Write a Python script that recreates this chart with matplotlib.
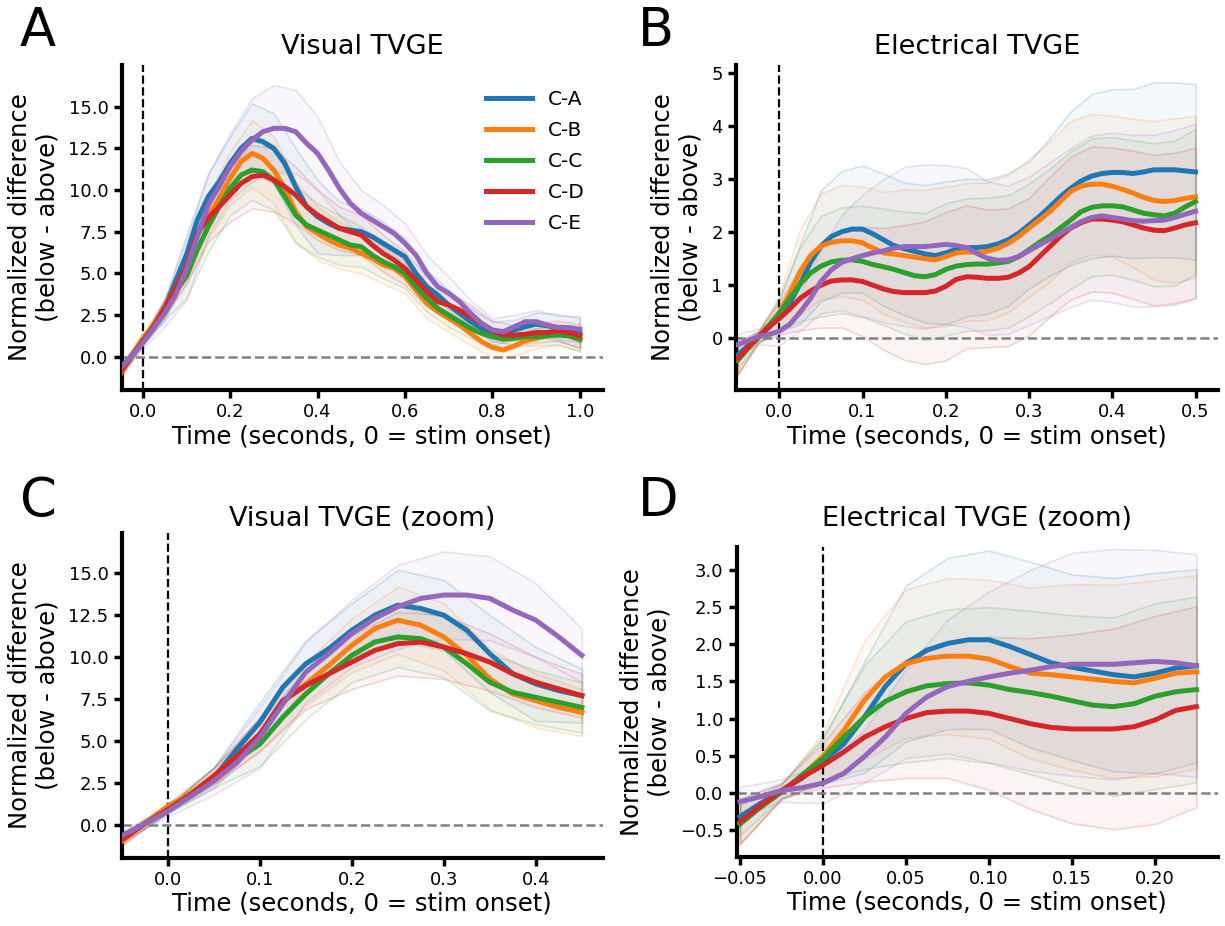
import numpy as np
import matplotlib.pyplot as plt
from matplotlib.colors import to_rgba

conds = ["C-A", "C-B", "C-C", "C-D", "C-E"]
colors = ["#1f77b4", "#ff7f0e", "#2ca02c", "#d62728", "#9467bd"]

# ---- visual TVGE: mean every 25 ms, -0.05 .. 1.0 s
vis_t = np.round(np.arange(-0.05, 1.0001, 0.025), 4)
vis_a = [-0.8, 0.05, 0.9, 1.7, 2.8, 4.5, 6.1, 8.2, 9.6, 10.5, 11.6, 12.5, 13.1, 12.9, 12.5, 11.6, 10.2, 9.0, 8.4, 8.0, 7.7,
         7.6, 7.5, 7.2, 6.8, 6.4, 6.0, 5.0, 4.2, 3.7, 3.1, 2.6, 2.1, 1.7, 1.4, 1.35, 1.6, 1.8, 1.95, 1.85, 1.75, 1.6, 1.4]
vis_b = [-1.0, 0.1, 1.1, 1.9, 2.9, 4.1, 5.4, 7.3, 8.4, 9.5, 10.7, 11.7, 12.2, 11.9, 11.2, 10.1, 8.7, 7.8, 7.4, 7.0, 6.7,
         6.5, 6.2, 5.9, 5.5, 5.3, 4.8, 4.0, 3.2, 2.7, 2.3, 1.9, 1.4, 0.9, 0.55, 0.4, 0.65, 0.95, 1.1, 1.25, 1.35, 1.25, 1.0]
vis_c = [-0.8, 0.05, 0.9, 1.8, 2.8, 3.9, 4.8, 6.4, 7.8, 9.0, 10.1, 10.9, 11.2, 11.1, 10.6, 9.6, 8.5, 7.9, 7.6, 7.3, 7.0,
         6.7, 6.6, 6.1, 5.7, 5.4, 5.0, 4.2, 3.5, 2.9, 2.5, 2.1, 1.7, 1.4, 1.2, 1.05, 1.1, 1.2, 1.2, 1.25, 1.3, 1.25, 1.05]
vis_d = [-0.9, 0.05, 0.9, 1.8, 2.9, 4.1, 5.4, 7.4, 8.3, 9.0, 9.7, 10.4, 10.8, 10.9, 10.6, 10.2, 9.7, 9.0, 8.5, 8.1, 7.7,
         7.5, 7.3, 6.7, 6.2, 5.8, 5.3, 4.6, 3.9, 3.3, 3.1, 2.8, 2.4, 2.0, 1.55, 1.3, 1.3, 1.35, 1.45, 1.45, 1.55, 1.45, 1.25]
vis_e = [-0.65, 0.05, 0.8, 1.7, 2.6, 3.7, 5.2, 7.2, 9.1, 10.2, 11.4, 12.3, 13.0, 13.5, 13.7, 13.7, 13.5, 12.8, 12.2, 11.2, 10.1,
         9.2, 8.6, 8.2, 7.8, 7.4, 6.8, 6.1, 5.0, 4.2, 3.8, 3.3, 2.6, 2.0, 1.6, 1.5, 1.8, 2.1, 2.1, 1.9, 1.75, 1.75, 1.65]

# half-width of the shaded band, every 50 ms (every other mean sample)
vis_err_a = [0.3, 0.2, 0.6, 1.2, 1.4, 1.6, 2.1, 2.1, 2.3, 2.2, 1.6, 1.4, 1.3, 1.1, 1.0, 0.9, 0.8, 0.7, 0.6, 0.7, 0.8, 0.9]
vis_err_b = [0.3, 0.2, 0.5, 1.0, 1.3, 1.6, 2.0, 2.0, 1.8, 1.6, 1.4, 1.2, 1.1, 1.0, 0.9, 0.8, 0.7, 0.6, 0.6, 0.6, 0.6, 0.7]
vis_err_c = [0.3, 0.2, 0.6, 1.3, 1.5, 1.6, 1.8, 1.8, 1.7, 1.6, 1.5, 1.2, 1.0, 0.9, 0.8, 0.7, 0.6, 0.5, 0.5, 0.5, 0.6, 0.7]
vis_err_d = [0.3, 0.2, 0.5, 1.0, 1.4, 1.6, 1.9, 1.9, 1.7, 1.5, 1.3, 1.2, 1.1, 1.0, 0.9, 0.8, 0.7, 0.6, 0.6, 0.6, 0.6, 0.7]
vis_err_e = [0.3, 0.3, 0.8, 1.8, 1.8, 2.0, 2.5, 2.6, 2.5, 2.2, 1.6, 1.4, 1.3, 1.2, 1.1, 1.0, 0.8, 0.7, 0.7, 0.7, 0.7, 0.8]

# ---- electrical TVGE: mean every 12.5 ms, -0.05 .. 0.5 s
elec_t = np.round(np.arange(-0.05, 0.5001, 0.0125), 5)
elec_a = [-0.32, -0.14, 0.03, 0.20, 0.42, 0.66, 1.02, 1.43, 1.74, 1.92, 2.01, 2.06, 2.06, 1.97, 1.86, 1.75, 1.69, 1.64, 1.59, 1.56, 1.61, 1.68, 1.71,
          1.71, 1.73, 1.78, 1.86, 1.98, 2.14, 2.30, 2.48, 2.67, 2.83, 2.97, 3.06, 3.11, 3.13, 3.13, 3.11, 3.14, 3.18, 3.18, 3.18, 3.16, 3.14]
elec_b = [-0.41, -0.19, 0.01, 0.24, 0.49, 0.84, 1.25, 1.56, 1.74, 1.81, 1.84, 1.84, 1.80, 1.70, 1.61, 1.59, 1.56, 1.53, 1.50, 1.48, 1.54, 1.61, 1.63,
          1.62, 1.64, 1.70, 1.79, 1.92, 2.08, 2.23, 2.39, 2.58, 2.77, 2.87, 2.91, 2.91, 2.87, 2.81, 2.74, 2.66, 2.60, 2.58, 2.60, 2.64, 2.67]
elec_c = [-0.42, -0.19, 0.01, 0.24, 0.46, 0.75, 1.02, 1.23, 1.36, 1.44, 1.47, 1.48, 1.45, 1.39, 1.35, 1.30, 1.24, 1.18, 1.16, 1.20, 1.30, 1.36, 1.39,
          1.40, 1.40, 1.42, 1.45, 1.54, 1.67, 1.81, 1.93, 2.08, 2.23, 2.39, 2.47, 2.50, 2.50, 2.48, 2.42, 2.36, 2.33, 2.31, 2.36, 2.48, 2.58]
elec_d = [-0.39, -0.17, 0.03, 0.21, 0.37, 0.55, 0.75, 0.89, 1.00, 1.08, 1.10, 1.10, 1.07, 1.00, 0.93, 0.88, 0.86, 0.86, 0.86, 0.89, 0.98, 1.11, 1.16,
          1.15, 1.13, 1.13, 1.15, 1.23, 1.35, 1.54, 1.73, 1.92, 2.08, 2.18, 2.25, 2.25, 2.23, 2.20, 2.14, 2.08, 2.04, 2.03, 2.08, 2.14, 2.18]
elec_e = [-0.12, -0.05, 0.03, 0.07, 0.13, 0.26, 0.49, 0.75, 1.07, 1.29, 1.43, 1.50, 1.56, 1.61, 1.65, 1.70, 1.73, 1.73, 1.73, 1.75, 1.77, 1.75, 1.71,
          1.60, 1.51, 1.47, 1.48, 1.54, 1.65, 1.76, 1.87, 1.98, 2.09, 2.20, 2.28, 2.31, 2.28, 2.25, 2.22, 2.21, 2.22, 2.23, 2.28, 2.34, 2.40]

# band half-width every 25 ms
elec_err_a = [0.25, 0.1, 0.3, 0.75, 1.05, 1.15, 1.2, 1.25, 1.25, 1.3, 1.35, 1.3, 1.27, 1.25, 1.2, 1.3, 1.45, 1.55, 1.57, 1.6, 1.65, 1.65, 1.66]
elec_err_b = [0.28, 0.1, 0.32, 0.8, 1.0, 1.05, 1.07, 1.15, 1.25, 1.3, 1.32, 1.3, 1.3, 1.3, 1.3, 1.32, 1.33, 1.33, 1.33, 1.4, 1.5, 1.55, 1.53]
elec_err_c = [0.25, 0.1, 0.3, 0.7, 0.95, 1.0, 1.05, 1.1, 1.15, 1.2, 1.25, 1.25, 1.25, 1.25, 1.25, 1.27, 1.3, 1.3, 1.3, 1.32, 1.35, 1.37, 1.37]
elec_err_d = [0.3, 0.1, 0.3, 0.6, 0.8, 0.9, 1.03, 1.15, 1.27, 1.35, 1.4, 1.35, 1.3, 1.3, 1.3, 1.32, 1.35, 1.37, 1.37, 1.4, 1.42, 1.42, 1.42]
elec_err_e = [0.2, 0.15, 0.27, 0.35, 0.6, 0.9, 1.15, 1.35, 1.5, 1.55, 1.5, 1.5, 1.45, 1.4, 1.4, 1.45, 1.5, 1.55, 1.6, 1.62, 1.62, 1.65, 1.65]

vis_means = [vis_a, vis_b, vis_c, vis_d, vis_e]
vis_errs = [vis_err_a, vis_err_b, vis_err_c, vis_err_d, vis_err_e]
elec_means = [elec_a, elec_b, elec_c, elec_d, elec_e]
elec_errs = [elec_err_a, elec_err_b, elec_err_c, elec_err_d, elec_err_e]

plt.rcParams["font.family"] = "DejaVu Sans"


def draw(ax, t, means, errs, tmax, legend=False):
    t = np.asarray(t)
    keep = t <= tmax + 1e-9
    tb = t[::2]
    keep_b = tb <= tmax + 1e-9
    for m, e, c in zip(means, errs, colors):
        mb = np.asarray(m)[::2]
        e = np.asarray(e)
        ax.fill_between(tb[keep_b], (mb - e)[keep_b], (mb + e)[keep_b],
                        facecolor=to_rgba(c, 0.05), edgecolor=to_rgba(c, 0.18),
                        lw=1.2, zorder=1)
    for m, c, lab in zip(means, colors, conds):
        ax.plot(t[keep], np.asarray(m)[keep], color=c, lw=3.6, label=lab,
                zorder=3, solid_joinstyle="round")
    ax.axvline(0, color="k", ls="--", lw=1.6, zorder=2)
    ax.axhline(0, color="gray", ls="--", lw=1.8, zorder=2)
    for s in ("top", "right"):
        ax.spines[s].set_visible(False)
    for s in ("left", "bottom"):
        ax.spines[s].set_linewidth(3)
    ax.tick_params(labelsize=13, length=6, width=2.5)
    ax.set_xlabel("Time (seconds, 0 = stim onset)", fontsize=17.5, labelpad=2)
    ax.set_ylabel("Normalized difference\n(below - above)", fontsize=17.5, labelpad=6)
    if legend:
        ax.legend(loc="upper right", frameon=False, fontsize=14.5,
                  handlelength=2.3, labelspacing=0.6, bbox_to_anchor=(1.0, 0.98))


fig = plt.figure(figsize=(12.25, 9.26), dpi=100)
axA = fig.add_axes([0.0993, 0.5788, 0.393, 0.351])
axB = fig.add_axes([0.6008, 0.5788, 0.3935, 0.351])
axC = fig.add_axes([0.0993, 0.0738, 0.393, 0.3506])
axD = fig.add_axes([0.6014, 0.0748, 0.3929, 0.3346])

draw(axA, vis_t, vis_means, vis_errs, 1.0, legend=True)
axA.set_xlim(-0.048, 1.053)
axA.set_ylim(-2.0, 17.5)
axA.set_xticks(np.arange(0, 1.01, 0.2))
axA.set_yticks(np.arange(0, 15.1, 2.5))
axA.xaxis.set_major_formatter("{x:.1f}")
axA.yaxis.set_major_formatter("{x:.1f}")
axA.set_title("Visual TVGE", fontsize=19.5, pad=8)

draw(axB, elec_t, elec_means, elec_errs, 0.5)
axB.set_xlim(-0.052, 0.527)
axB.set_ylim(-0.98, 5.16)
axB.set_xticks(np.arange(0, 0.51, 0.1))
axB.set_yticks(np.arange(0, 6, 1))
axB.xaxis.set_major_formatter("{x:.1f}")
axB.set_title("Electrical TVGE", fontsize=19.5, pad=8)

draw(axC, vis_t, vis_means, vis_errs, 0.45)
axC.set_xlim(-0.05, 0.473)
axC.set_ylim(-1.96, 17.4)
axC.set_xticks(np.arange(0, 0.41, 0.1))
axC.set_yticks(np.arange(0, 15.1, 2.5))
axC.xaxis.set_major_formatter("{x:.1f}")
axC.yaxis.set_major_formatter("{x:.1f}")
axC.set_title("Visual TVGE (zoom)", fontsize=19.5, pad=5)

draw(axD, elec_t, elec_means, elec_errs, 0.225)
axD.set_xlim(-0.052, 0.238)
axD.set_ylim(-0.86, 3.31)
axD.set_xticks(np.arange(-0.05, 0.201, 0.05))
axD.set_yticks(np.arange(-0.5, 3.01, 0.5))
axD.xaxis.set_major_formatter(plt.FuncFormatter(lambda v, p: f"{v:.2f}".replace("-", "\u2212")))
axD.yaxis.set_major_formatter(plt.FuncFormatter(lambda v, p: f"{v:.1f}".replace("-", "\u2212")))
axD.set_title("Electrical TVGE (zoom)", fontsize=19.5, pad=15)

for lab, x, y in [("A", 0.016, 0.995), ("B", 0.521, 0.995), ("C", 0.016, 0.487), ("D", 0.521, 0.487)]:
    fig.text(x, y, lab, fontsize=38, va="top", ha="left")

fig.savefig("out.png", dpi=100)
